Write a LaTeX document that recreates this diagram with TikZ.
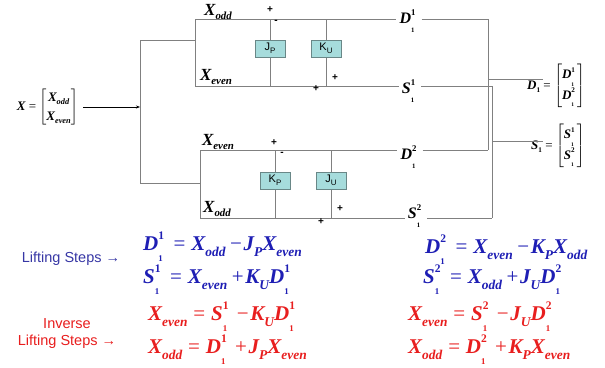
\documentclass[tikz,border=0pt]{standalone}
\usepackage{fontspec}
\usepackage{amsmath}
\usepackage{graphicx}
\setmainfont{Liberation Serif}
\newfontfamily\arialfont{Liberation Sans}
\usetikzlibrary{arrows.meta}

\definecolor{wire}{RGB}{128,128,128}
\definecolor{boxfill}{RGB}{166,220,220}
\definecolor{boxline}{RGB}{105,135,135}
\definecolor{eqblue}{RGB}{30,30,180}
\definecolor{lblblue}{RGB}{55,55,165}
\definecolor{eqred}{RGB}{232,30,30}

% bold italic symbol
\newcommand\bi[1]{{\bfseries\itshape #1}}
% lowered word subscript
\newcommand\lo[1]{\raisebox{-0.28em}{\scalebox{0.64}{\bfseries\itshape #1}}}
% stacked superscript / subscript
\newcommand\ud[2]{\makebox[0.45em][l]{\rlap{\raisebox{0.5em}{\scalebox{0.55}{\bfseries #1}}}\raisebox{-0.55em}{\scalebox{0.42}{\bfseries #2}}}}
% single small subscript digit
\newcommand\sd[1]{\raisebox{-0.25em}{\scalebox{0.55}{\bfseries #1}}}
% relation and operator with a little air
\newcommand\eqs{\hspace{0.28em}=\hspace{0.28em}}
\newcommand\op[1]{\hspace{0.22em}#1\hspace{0.08em}}
% column vector of two entries
\newcommand\colvec[2]{$\left[\vcenter{\hbox{\renewcommand\arraystretch{1.45}\begin{tabular}{@{}c@{}}#1\\#2\end{tabular}}}\right]$}
% sans label with lowered subscript letter
\newcommand\blk[2]{#1\raisebox{-0.3em}{\scalebox{0.72}{#2}}}

\begin{document}
\begin{tikzpicture}[x=1pt,y=-1pt,
  wire/.style={draw=wire,line width=1pt},
  liftbox/.style={draw=boxline,fill=boxfill,line width=0.8pt,minimum width=30pt,
    minimum height=17pt,inner sep=0pt,font=\arialfont\fontsize{11}{11}\selectfont},
  sig/.style={font=\arialfont\fontsize{10}{10}\selectfont\bfseries,inner sep=0pt},
  lbl/.style={font=\fontsize{17}{17}\selectfont,inner sep=0pt},
  cut/.style={font=\fontsize{16}{16}\selectfont,inner sep=3pt},
  vec/.style={font=\fontsize{13}{13}\selectfont,inner sep=0pt},
  eq/.style={font=\fontsize{21}{21}\selectfont,anchor=west,inner sep=0pt},
  steps/.style={font=\arialfont\fontsize{14.5}{17}\selectfont,align=center,inner sep=0pt},
]
\useasboundingbox (0,0) rectangle (605,367);

% ---------- input and splitter ----------
\node[vec,anchor=east] (xin) at (78,107)
  {\bi{X} = \colvec{\bi{X}\lo{odd}}{\bi{X}\lo{even}}};
\coordinate (split) at (140,107);
\coordinate (sT) at (140,40);
\coordinate (sB) at (140,183);
\coordinate (aIn) at (195,40);
\coordinate (bIn) at (200,183);
\draw[-{Stealth[length=4pt,width=3pt]},line width=0.6pt] ([xshift=5pt]xin.east) -- (split);
\draw[wire] (aIn) -- (sT) -- (sB) -- (bIn);

% ---------- block corners ----------
\coordinate (aTL) at (195,19);
\coordinate (aBL) at (195,86);
\coordinate (aTR) at (488,19);
\coordinate (aBR) at (492,86);
\coordinate (bTL) at (200,150);
\coordinate (bBL) at (200,218);
\coordinate (bTR) at (488,150);
\coordinate (bBR) at (492,218);

% ---------- signal labels ----------
\node[lbl] (aXo) at (218,12) {\bi{X}\lo{odd}};
\node[lbl] (aXe) at (216,77) {\bi{X}\lo{even}};
\node[lbl] (bXe) at (218,142) {\bi{X}\lo{even}};
\node[lbl] (bXo) at (217,209) {\bi{X}\lo{odd}};
\node[cut] (d11) at (409,21) {\bi{D}\ud{1}{1}};
\node[cut] (s11) at (410,91) {\bi{S}\ud{1}{1}};
\node[cut] (d12) at (410,157) {\bi{D}\ud{2}{1}};
\node[cut] (s12) at (416,216) {\bi{S}\ud{2}{1}};

% ---------- wires of the two lifting blocks ----------
\draw[wire] (aTL) -- (aBL);
\draw[wire] (aTL) -- (d11.west |- aTL);
\draw[wire] (d11.east |- aTL) -- (aTR) -- (bTR);
\draw[wire] (aBL) -- (s11.west |- aBL);
\draw[wire] (s11.east |- aBL) -- (aBR) -- (bBR);
\draw[wire] (bTL) -- (bBL);
\draw[wire] (bTL) -- (d12.west |- bTL);
\draw[wire] (d12.east |- bTL) -- (bTR);
\draw[wire] (bBL) -- (s12.west |- bBL);
\draw[wire] (s12.east |- bBL) -- (bBR);

% ---------- predict / update filters ----------
\coordinate (jpT) at (270,19);  \coordinate (jpB) at (270,86);
\coordinate (kuT) at (326,19);  \coordinate (kuB) at (326,86);
\coordinate (kpT) at (275,150); \coordinate (kpB) at (275,218);
\coordinate (juT) at (331,150); \coordinate (juB) at (331,218);
\draw[wire] (jpT) -- (jpB);
\draw[wire] (kuT) -- (kuB);
\draw[wire] (kpT) -- (kpB);
\draw[wire] (juT) -- (juB);
\node[liftbox] (jp) at (270,48.5) {\blk{J}{P}};
\node[liftbox] (ku) at (326,48.5) {\blk{K}{U}};
\node[liftbox] (kp) at (275,180.5) {\blk{K}{P}};
\node[liftbox] (ju) at (331,180.5) {\blk{J}{U}};

% ---------- adder signs ----------
\node[sig] (p1) at (270,10) {+};
\node[sig] (m1) at (276,22) {-};
\node[sig] (p2) at (335,78) {+};
\node[sig] (p3) at (316,89) {+};
\node[sig] (p4) at (274,143) {+};
\node[sig] (m2) at (282,154) {-};
\node[sig] (p5) at (340,209) {+};
\node[sig] (p6) at (321,222) {+};

% ---------- outputs ----------
\coordinate (dJoin) at (488,79);
\coordinate (sJoin) at (492,141);
\node[vec,anchor=west] (dout) at (527,86)
  {\bi{D}\sd{1} = \colvec{\bi{D}\ud{1}{1}}{\bi{D}\ud{2}{1}}};
\node[vec,anchor=west] (sout) at (531,146)
  {\bi{S}\sd{1} = \colvec{\bi{S}\ud{1}{1}}{\bi{S}\ud{2}{1}}};
\coordinate (dEnd) at (543,79);
\coordinate (sEnd) at (543,141);
\draw[wire] (dJoin) -- (dEnd);
\draw[wire] (sJoin) -- (sEnd);

% ---------- lifting equations ----------
\node[steps,text=lblblue] (fwd) at (71,259) {Lifting Steps →};
\node[steps,text=eqred] (inv) at (67,334) {Inverse\\Lifting Steps →};

\node[eq,text=eqblue] (e1) at (143,247)
  {\bi{D}\ud{1}{1}\eqs\bi{X}\lo{odd}\op{−}\bi{J}\lo{P}\bi{X}\lo{even}};
\node[eq,text=eqblue] (e2) at (143,280)
  {\bi{S}\ud{1}{1}\eqs\bi{X}\lo{even}\op{+}\bi{K}\lo{U}\bi{D}\ud{1}{1}};
\node[eq,text=eqred] (e3) at (148,317)
  {\bi{X}\lo{even}\eqs\bi{S}\ud{1}{1}\op{−}\bi{K}\lo{U}\bi{D}\ud{1}{1}};
\node[eq,text=eqred] (e4) at (148,350)
  {\bi{X}\lo{odd}\eqs\bi{D}\ud{1}{1}\op{+}\bi{J}\lo{P}\bi{X}\lo{even}};

\node[eq,text=eqblue] (e5) at (425,250)
  {\bi{D}\ud{2}{1}\eqs\bi{X}\lo{even}\op{−}\bi{K}\lo{P}\bi{X}\lo{odd}};
\node[eq,text=eqblue] (e6) at (423,280)
  {\bi{S}\ud{2}{1}\eqs\bi{X}\lo{odd}\op{+}\bi{J}\lo{U}\bi{D}\ud{2}{1}};
\node[eq,text=eqred] (e7) at (408,317)
  {\bi{X}\lo{even}\eqs\bi{S}\ud{2}{1}\op{−}\bi{J}\lo{U}\bi{D}\ud{2}{1}};
\node[eq,text=eqred] (e8) at (408,350)
  {\bi{X}\lo{odd}\eqs\bi{D}\ud{2}{1}\op{+}\bi{K}\lo{P}\bi{X}\lo{even}};
\end{tikzpicture}
\end{document}
